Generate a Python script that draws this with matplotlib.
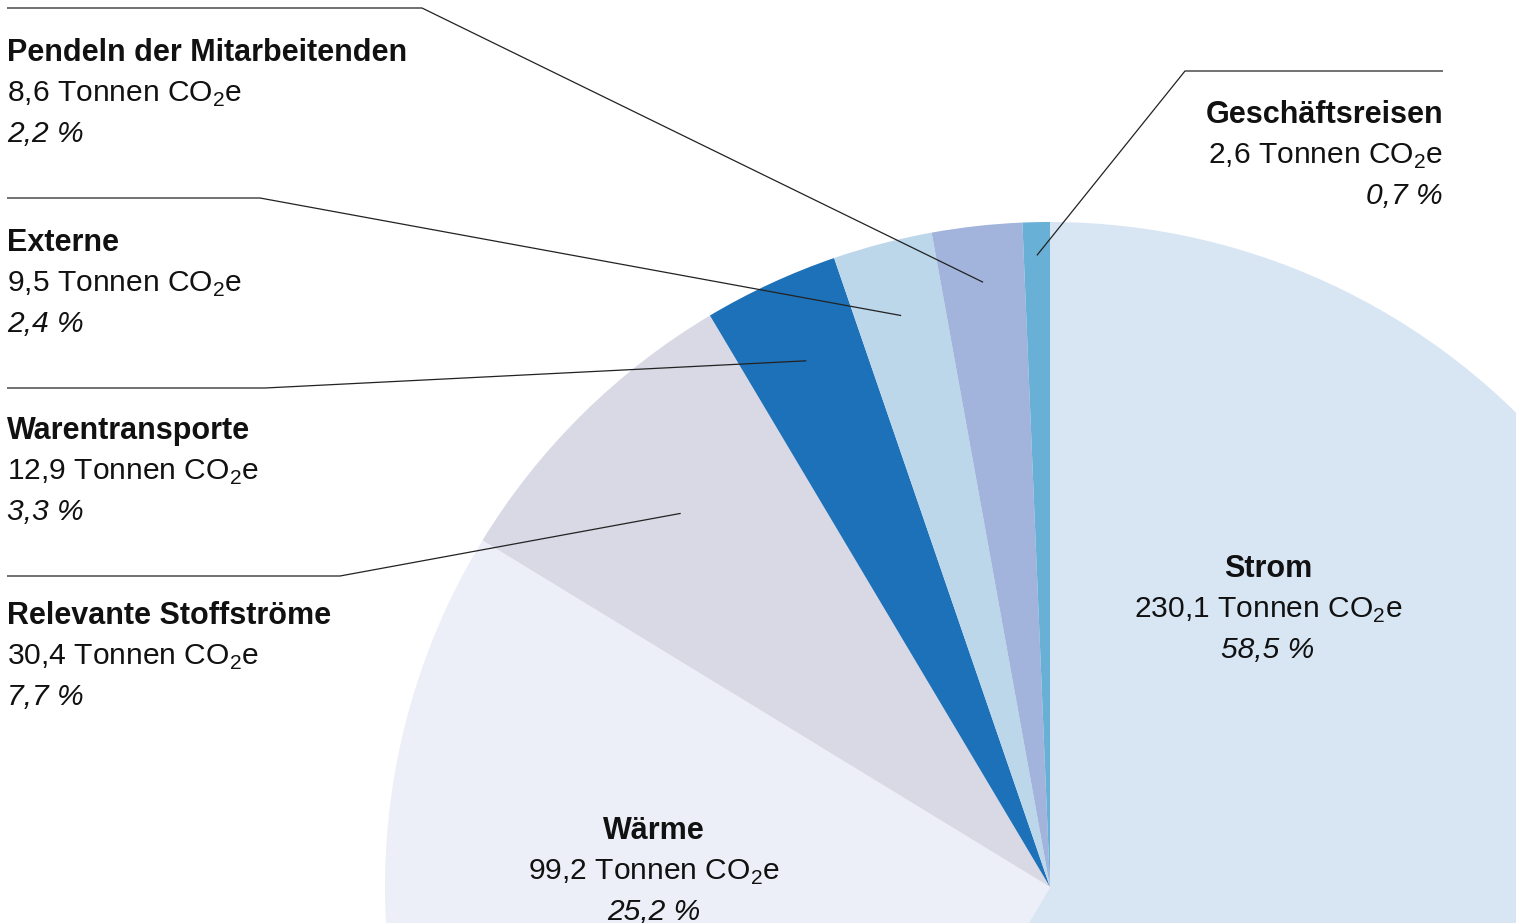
import matplotlib
matplotlib.use("Agg")
import matplotlib.pyplot as plt
import numpy as np

plt.rcParams['font.family'] = ['Liberation Sans', 'DejaVu Sans']
plt.rcParams['mathtext.fontset'] = 'custom'
plt.rcParams['mathtext.rm'] = 'Liberation Sans'

# data, in clockwise order starting at 12 o'clock
categories = ["Strom", "Wärme", "Relevante Stoffströme", "Warentransporte",
              "Externe", "Pendeln der Mitarbeitenden", "Geschäftsreisen"]
tonnes = [230.1, 99.2, 30.4, 12.9, 9.5, 8.6, 2.6]
tonnes_labels = ["230,1", "99,2", "30,4", "12,9", "9,5", "8,6", "2,6"]
share_labels = ["58,5 %", "25,2 %", "7,7 %", "3,3 %", "2,4 %", "2,2 %", "0,7 %"]
colors = ["#d8e6f4", "#eceef8", "#d9d8e5", "#1d71b8", "#bcd6ea", "#a2b4dc", "#68b0d6"]

W, H = 1516, 923
fig = plt.figure(figsize=(W / 100, H / 100), dpi=100)
ax = fig.add_axes([0, 0, 1, 1])

def Y(y):
    return H - y

cx, cy, R = 1050, Y(887), 665
wedges, _ = ax.pie(tonnes, colors=colors, startangle=90, counterclock=False,
                   center=(cx, cy), radius=R, wedgeprops=dict(linewidth=0))
ax.set_xlim(0, W)
ax.set_ylim(0, H)
ax.set_aspect('equal')
ax.axis('off')

fs_bold = 22
fs = 21.6
ink = "#111111"

def label_block(i, x, y, ha):
    # y = vertical centre of the bold line in image pixels
    base = y + 11
    ax.text(x, Y(base), categories[i], fontsize=fs_bold, fontweight='bold', ha=ha,
            va='baseline', color=ink)
    ax.text(x, Y(base + 41), tonnes_labels[i] + r" Tonnen CO$_\mathregular{2}$e",
            fontsize=fs, ha=ha, va='baseline', color=ink)
    ax.text(x, Y(base + 81), share_labels[i], fontsize=fs, style='italic', ha=ha,
            va='baseline', color=ink)

# inner labels
label_block(0, 1268, 566, 'center')
label_block(1, 654, 828, 'center')

# outside labels with leader lines: (index, text x, text y, ha, line y, line x0, line x1, radius frac)
outside = [
    (5, 7, 50, 'left', 8, 7, 422, 0.915),
    (4, 7, 240, 'left', 198, 7, 260, 0.888),
    (3, 7, 428, 'left', 388, 7, 265, 0.872),
    (2, 7, 613, 'left', 576, 7, 340, 0.79),
    (6, 1443, 112, 'right', 71, 1443, 1185, 0.95),
]
for i, tx, ty, ha, ly, x0, x1, frac in outside:
    label_block(i, tx, ty, ha)
    w = wedges[i]
    mid = np.deg2rad((w.theta1 + w.theta2) / 2)
    ex = cx + frac * R * np.cos(mid)
    ey = cy + frac * R * np.sin(mid)
    ax.plot([x0, x1, ex], [Y(ly), Y(ly), ey], color="#222222", lw=0.9,
            solid_capstyle='butt')

fig.savefig("out.png", dpi=100)
